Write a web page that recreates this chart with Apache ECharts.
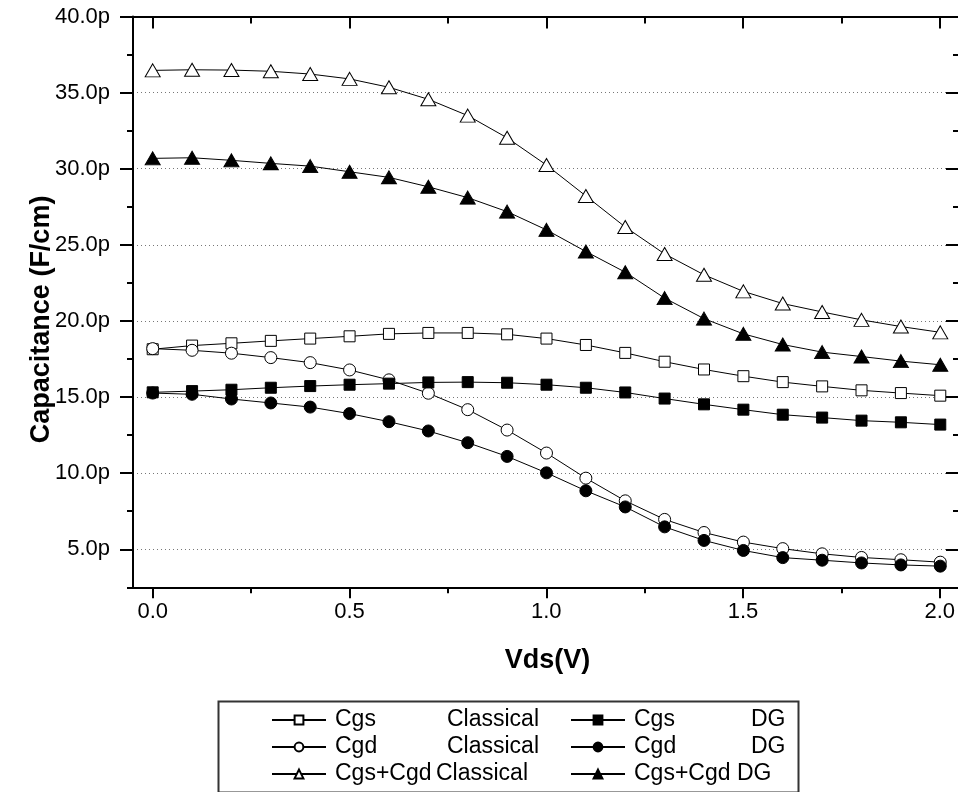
<!DOCTYPE html>
<html>
<head>
<meta charset="utf-8">
<script src="https://cdn.jsdelivr.net/npm/echarts@6/dist/echarts.min.js"></script>
<style>
  html, body { margin: 0; padding: 0; background: #fff; }
  #chart { width: 958px; height: 792px; }
</style>
</head>
<body>
<div id="chart"></div>
<script>
// Drain voltage sweep (V)
const vds = [0.0, 0.1, 0.2, 0.3, 0.4, 0.5, 0.6, 0.7, 0.8, 0.9, 1.0,
             1.1, 1.2, 1.3, 1.4, 1.5, 1.6, 1.7, 1.8, 1.9, 2.0];

// Capacitances in pF/cm
const cgsClassical = [18.14, 18.38, 18.53, 18.69, 18.84, 18.99, 19.15, 19.21, 19.21, 19.12, 18.84,
                      18.42, 17.90, 17.32, 16.81, 16.37, 15.98, 15.70, 15.44, 15.26, 15.09];
const cgdClassical = [18.18, 18.07, 17.88, 17.59, 17.26, 16.78, 16.13, 15.25, 14.17, 12.83, 11.32,
                      9.67, 8.18, 6.96, 6.10, 5.47, 5.04, 4.70, 4.46, 4.31, 4.15];
const cgsDG = [15.31, 15.39, 15.48, 15.61, 15.72, 15.81, 15.88, 15.96, 15.98, 15.94, 15.81,
               15.61, 15.30, 14.90, 14.52, 14.17, 13.84, 13.65, 13.45, 13.34, 13.19];
const cgdDG = [15.26, 15.18, 14.87, 14.61, 14.34, 13.91, 13.38, 12.77, 12.00, 11.10, 10.02,
               8.84, 7.78, 6.47, 5.58, 4.92, 4.45, 4.28, 4.10, 3.97, 3.89];
const totalClassical = [36.46, 36.50, 36.48, 36.40, 36.22, 35.90, 35.35, 34.56, 33.49, 32.03, 30.24,
                        28.21, 26.17, 24.40, 23.03, 21.94, 21.14, 20.59, 20.07, 19.63, 19.25];
const totalDG = [30.68, 30.72, 30.55, 30.35, 30.17, 29.80, 29.43, 28.81, 28.10, 27.18, 25.98,
                 24.56, 23.20, 21.50, 20.15, 19.15, 18.45, 17.95, 17.66, 17.36, 17.12];

// Tick values of the axes
const xMajorTicks = [0, 0.5, 1.0, 1.5, 2.0];
const yMajorTicks = [5, 10, 15, 20, 25, 30, 35, 40];

// Legend text: quantity and device type
const legendQuantity = ['Cgs', 'Cgd', 'Cgs+Cgd'];
const legendDevice = ['Classical', 'DG'];

const FONT = '"Liberation Sans", Arial, Helvetica, sans-serif';

function pairs(ys) {
  return vds.map((x, i) => [x, ys[i]]);
}

function makeSeries(name, ys, symbol, filled, size) {
  return {
    name: name,
    type: 'line',
    xAxisIndex: 0,
    yAxisIndex: 0,
    data: pairs(ys),
    symbol: symbol,
    symbolSize: size,
    showAllSymbol: true,
    lineStyle: { color: '#000', width: 1 },
    itemStyle: { color: filled ? '#000' : '#fff', borderColor: '#000', borderWidth: 1, opacity: 1 },
    emphasis: { disabled: true },
    z: 3
  };
}

const names = {
  cgsC: legendQuantity[0] + ' ' + legendDevice[0],
  cgdC: legendQuantity[1] + ' ' + legendDevice[0],
  totC: legendQuantity[2] + ' ' + legendDevice[0],
  cgsD: legendQuantity[0] + ' ' + legendDevice[1],
  cgdD: legendQuantity[1] + ' ' + legendDevice[1],
  totD: legendQuantity[2] + ' ' + legendDevice[1]
};

// rich-text column widths so the device names line up
const legendRich = {
  a: { width: 112, fontSize: 23, fontFamily: FONT, color: '#000' },
  b: { width: 101, fontSize: 23, fontFamily: FONT, color: '#000' },
  c: { width: 117, fontSize: 23, fontFamily: FONT, color: '#000' },
  d: { width: 103, fontSize: 23, fontFamily: FONT, color: '#000' },
  t: { fontSize: 23, fontFamily: FONT, color: '#000' }
};

function legendFormatter(name) {
  const parts = name.split(' ');
  const q = parts[0], dev = parts[1];
  let key;
  if (dev === legendDevice[0]) key = (q === legendQuantity[2]) ? 'b' : 'a';
  else key = (q === legendQuantity[2]) ? 'd' : 'c';
  return '{' + key + '|' + q + '}{t|' + dev + '}';
}

function legendColumn(left, data) {
  return {
    show: true,
    orient: 'vertical',
    left: left,
    top: 708,
    padding: 0,
    itemWidth: 54,
    itemHeight: 11,
    itemGap: 3,
    selectedMode: false,
    data: data,
    formatter: legendFormatter,
    textStyle: { fontSize: 23, fontFamily: FONT, color: '#000', lineHeight: 24, padding: [0, 0, 0, 4], rich: legendRich }
  };
}

const hiddenAxis = (gridIndex) => ({ show: false, type: 'value', gridIndex: gridIndex, min: 0, max: 1 });

const option = {
  animation: false,
  backgroundColor: '#fff',
  grid: [
    // data area
    { left: 133, right: 0, top: 16.5, bottom: 204.7 },
    // x tick frame: 0 .. 2.0
    { left: 152.8, right: 17.7, top: 16.5, bottom: 204.7 },
    // y tick frame: 5 .. 40
    { left: 133, right: 0, top: 16.5, bottom: 242.7 }
  ],
  legend: [
    legendColumn(271, [names.cgsC, names.cgdC, names.totC]),
    legendColumn(570, [names.cgsD, names.cgdD, names.totD])
  ],
  graphic: [{
    type: 'rect',
    left: 216,
    top: 699,
    shape: { width: 580, height: 91 },
    style: { fill: 'none', stroke: '#333', lineWidth: 2 },
    silent: true
  }],
  xAxis: [
    {
      type: 'value', gridIndex: 0, position: 'bottom', min: -0.05, max: 2.045,
      name: 'Vds(V)', nameLocation: 'middle', nameGap: 60,
      nameTextStyle: { fontSize: 27, fontWeight: 'bold', fontFamily: FONT, color: '#000', padding: [0, 0, 0, 4] },
      axisLine: { show: true, onZero: false, lineStyle: { color: '#000', width: 2 } },
      axisTick: { show: false }, axisLabel: { show: false }, splitLine: { show: false }
    },
    {
      type: 'value', gridIndex: 0, position: 'top', min: -0.05, max: 2.045,
      axisLine: { show: true, onZero: false, lineStyle: { color: '#000', width: 2 } },
      axisTick: { show: false }, axisLabel: { show: false }, splitLine: { show: false }
    },
    {
      type: 'value', gridIndex: 1, position: 'bottom',
      min: xMajorTicks[0], max: xMajorTicks[xMajorTicks.length - 1], interval: xMajorTicks[1] - xMajorTicks[0],
      axisLine: { show: false, onZero: false },
      axisTick: { show: true, inside: false, length: 11, lineStyle: { color: '#000', width: 2 } },
      minorTick: { show: true, splitNumber: 2, length: 6, lineStyle: { color: '#000', width: 2 } },
      axisLabel: { show: true, margin: 14, fontSize: 22, fontFamily: FONT, color: '#000',
                   formatter: (v) => v.toFixed(1) },
      splitLine: { show: false }
    },
    {
      type: 'value', gridIndex: 1, position: 'top',
      min: xMajorTicks[0], max: xMajorTicks[xMajorTicks.length - 1], interval: xMajorTicks[1] - xMajorTicks[0],
      axisLine: { show: false, onZero: false },
      axisTick: { show: true, inside: true, length: 12, lineStyle: { color: '#000', width: 2 } },
      minorTick: { show: true, splitNumber: 2, length: 7, lineStyle: { color: '#000', width: 2 } },
      axisLabel: { show: false }, splitLine: { show: false }
    },
    hiddenAxis(2)
  ],
  yAxis: [
    {
      type: 'value', gridIndex: 0, position: 'left', min: 2.5, max: 40, interval: 37.5,
      name: 'Capacitance (F/cm)', nameLocation: 'middle', nameGap: 78, nameRotate: 90,
      nameTextStyle: { fontSize: 27, fontWeight: 'bold', fontFamily: FONT, color: '#000', padding: [0, 35, 0, 0] },
      axisLine: { show: true, onZero: false, lineStyle: { color: '#000', width: 2 } },
      axisTick: { show: true, inside: false, length: 6, lineStyle: { color: '#000', width: 2 } },
      axisLabel: { show: false }, splitLine: { show: false }
    },
    hiddenAxis(0),
    hiddenAxis(1),
    {
      type: 'value', gridIndex: 2, position: 'left',
      min: yMajorTicks[0], max: yMajorTicks[yMajorTicks.length - 1], interval: yMajorTicks[1] - yMajorTicks[0],
      axisLine: { show: false, onZero: false },
      axisTick: { show: true, inside: false, length: 13, lineStyle: { color: '#000', width: 2 } },
      minorTick: { show: true, splitNumber: 2, length: 6, lineStyle: { color: '#000', width: 2 } },
      axisLabel: { show: true, margin: 23, fontSize: 22, fontFamily: FONT, color: '#000',
                   formatter: (v) => v.toFixed(1) + 'p' },
      splitLine: { show: true, lineStyle: { color: '#777', width: 1, type: [1, 3] } }
    },
    {
      type: 'value', gridIndex: 2, position: 'right',
      min: yMajorTicks[0], max: yMajorTicks[yMajorTicks.length - 1], interval: yMajorTicks[1] - yMajorTicks[0],
      axisLine: { show: false, onZero: false },
      axisTick: { show: true, inside: true, length: 12, lineStyle: { color: '#000', width: 2 } },
      minorTick: { show: true, splitNumber: 2, length: 5, lineStyle: { color: '#000', width: 2 } },
      axisLabel: { show: false }, splitLine: { show: false }
    }
  ],
  series: [
    makeSeries(names.cgsC, cgsClassical, 'rect', false, 11),
    makeSeries(names.cgdC, cgdClassical, 'circle', false, 12),
    makeSeries(names.cgsD, cgsDG, 'rect', true, 11),
    makeSeries(names.cgdD, cgdDG, 'circle', true, 12),
    makeSeries(names.totC, totalClassical, 'triangle', false, [15, 13]),
    makeSeries(names.totD, totalDG, 'triangle', true, [15, 13])
  ]
};

const chart = echarts.init(document.getElementById('chart'), null, { renderer: 'canvas' });
chart.setOption(option);
</script>
</body>
</html>
